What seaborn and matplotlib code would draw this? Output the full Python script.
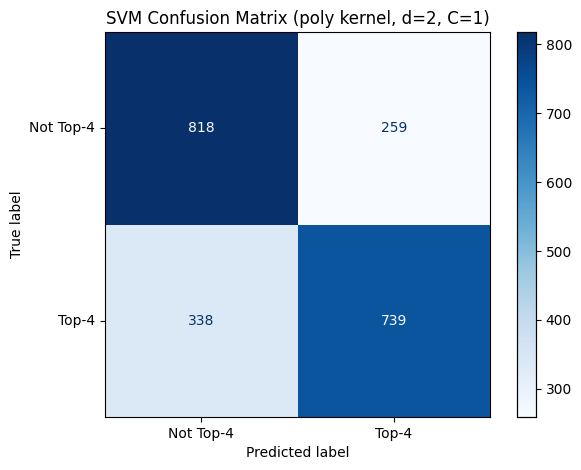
import numpy as np
import matplotlib
matplotlib.use('Agg')
from matplotlib import pyplot as plt
import seaborn as sns

class_names = ['Not Top-4', 'Top-4']
counts_not_top4 = [818, 259]
counts_top4 = [338, 739]

cm = np.array([counts_not_top4, counts_top4])

fig = plt.figure(figsize=(5.81, 4.70), dpi=100)
W, H = 581, 470
ax = fig.add_axes([105 / W, 1 - 417 / H, 385 / W, 385 / H])
cax = fig.add_axes([517 / W, 1 - 417 / H, 19 / W, 385 / H])

cmap = plt.get_cmap('Blues')
sns.heatmap(cm, ax=ax, cbar_ax=cax, cmap=cmap, annot=False,
            vmin=cm.min(), vmax=cm.max(), square=False)

# annotate like sklearn: light text on dark cells, dark text on light cells
thresh = (cm.max() + cm.min()) / 2.0
for i in range(cm.shape[0]):
    for j in range(cm.shape[1]):
        color = cmap(0.0) if cm[i, j] > thresh else cmap(1.0)
        ax.text(j + 0.5, i + 0.5, str(cm[i, j]), ha='center', va='center',
                color=color, fontsize=10)

for side in ax.spines.values():
    side.set_visible(True)
    side.set_linewidth(0.8)
for side in cax.spines.values():
    side.set_visible(True)
    side.set_linewidth(0.8)

ax.set_xticklabels(class_names, rotation=0)
ax.set_yticklabels(class_names, rotation=0)
ax.tick_params(length=3.5, width=0.8, labelsize=10)
ax.set_xlabel('Predicted label')
ax.set_ylabel('True label')
ax.set_title('SVM Confusion Matrix (poly kernel, d=2, C=1)')

cax.set_yticks([300, 400, 500, 600, 700, 800])
cax.tick_params(length=3.5, width=0.8, labelsize=10)

fig.savefig('out.png', dpi=100)
